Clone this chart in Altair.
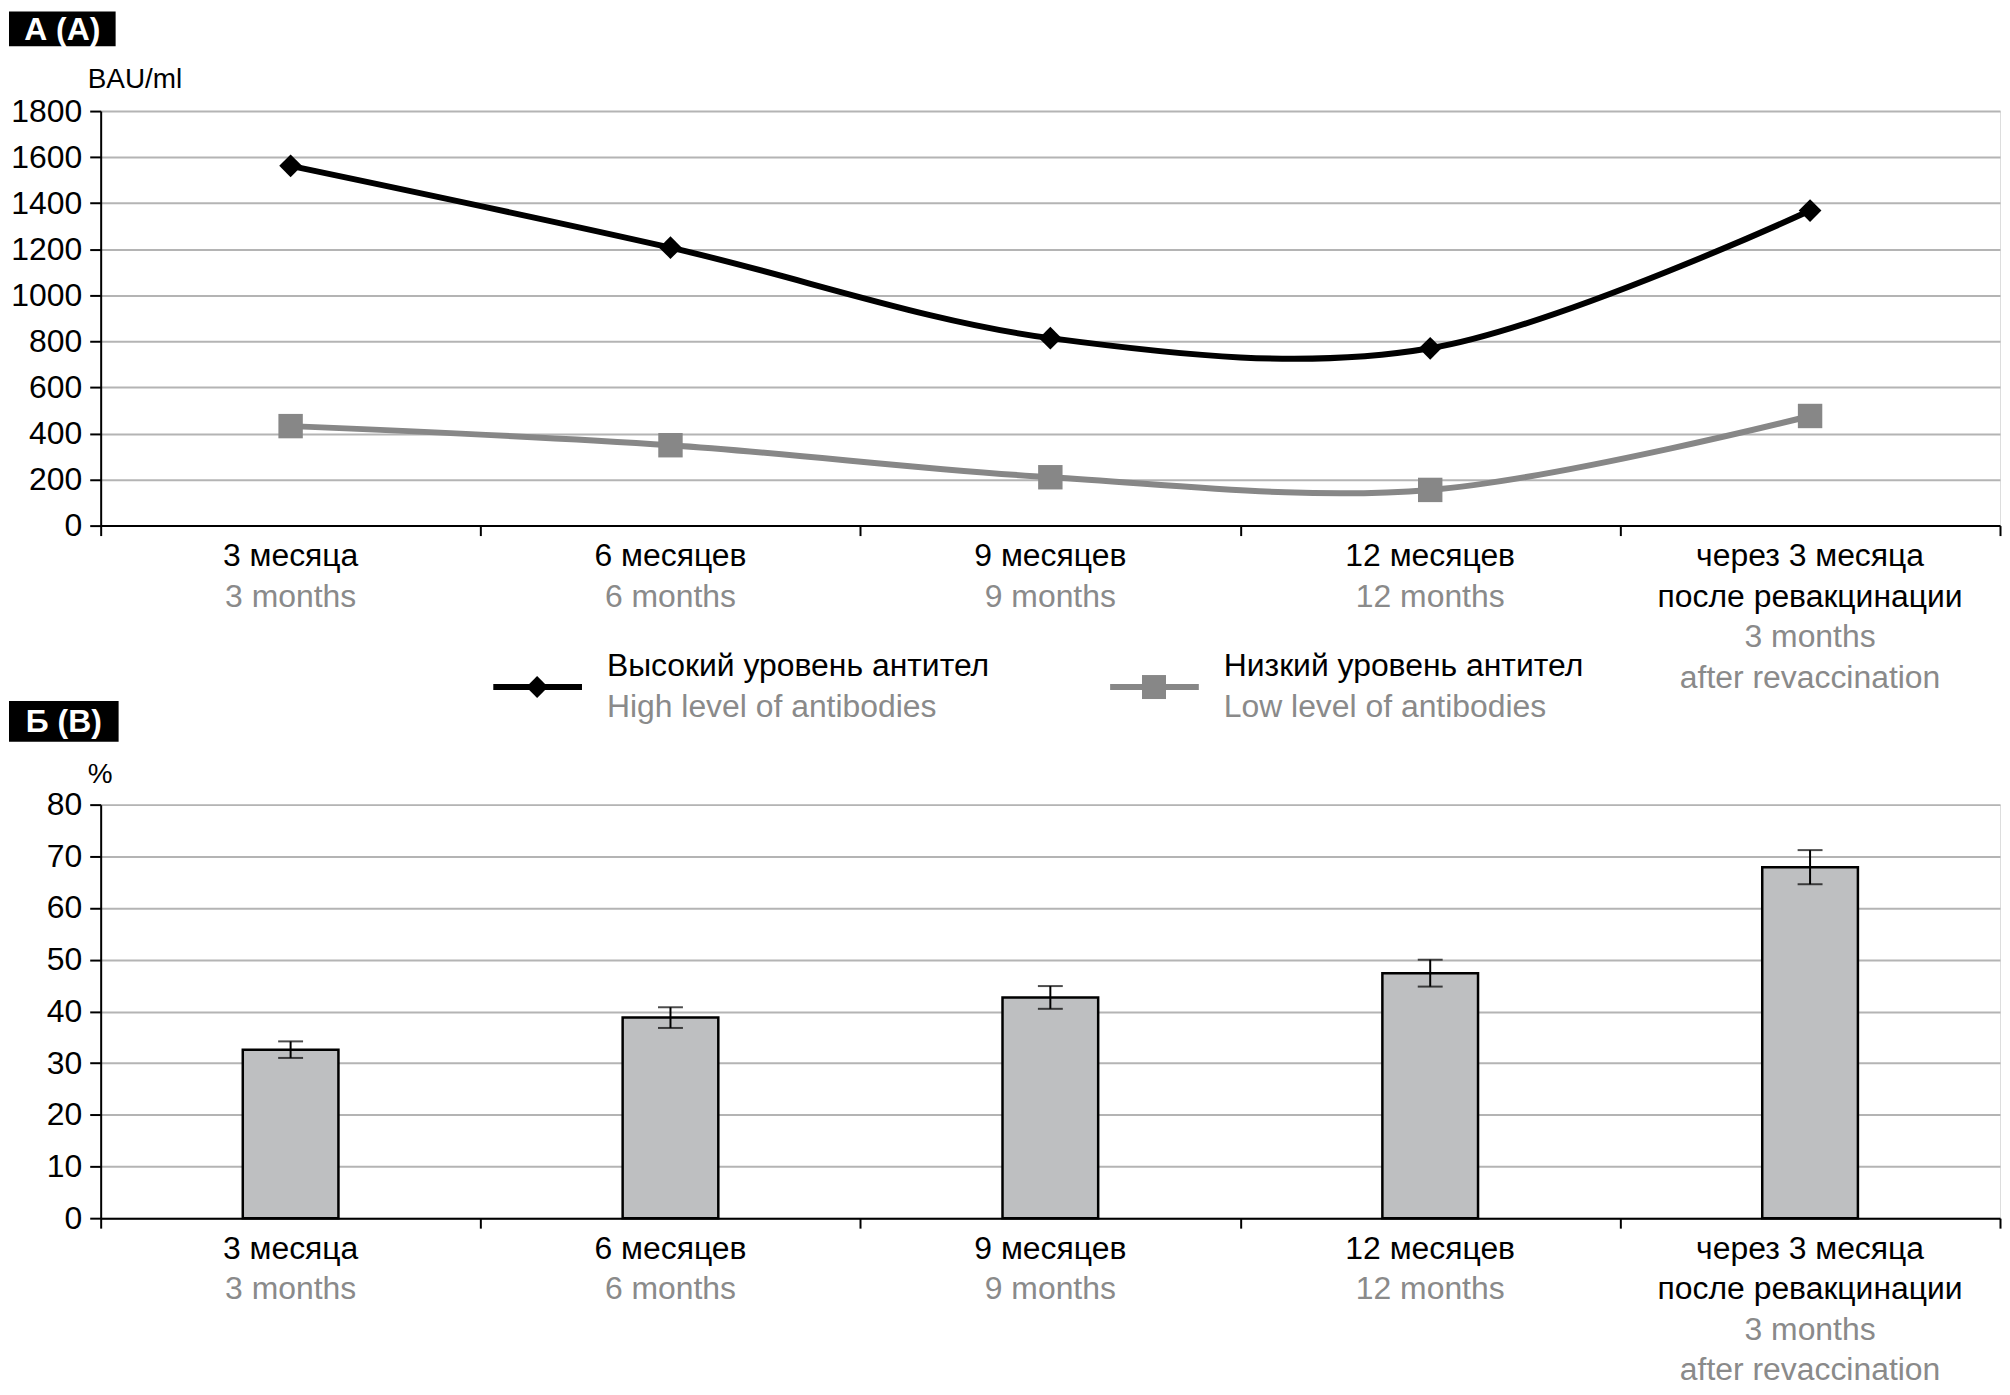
import altair as alt
import pandas as pd

# ---------------- data ----------------
cat_keys = ["m3", "m6", "m9", "m12", "rev"]
ru_lines = [["3 месяца"], ["6 месяцев"], ["9 месяцев"], ["12 месяцев"],
            ["через 3 месяца", "после ревакцинации"]]
en_lines = [["3 months"], ["6 months"], ["9 months"], ["12 months"],
            ["3 months", "after revaccination"]]

high_vals = [1562, 1207, 814, 770, 1368]
low_vals = [432, 349, 210, 155, 476]

pct_vals = [32.6, 38.8, 42.7, 47.4, 67.9]
pct_err = [1.6, 2.0, 2.2, 2.6, 3.3]

series_ru = ["Высокий уровень антител", "Низкий уровень антител"]
series_en = ["High level of antibodies", "Low level of antibodies"]

BLACK = "#000000"
GRAY_LINE = "#878787"
GRAY_TEXT = "#8a8a8a"
GRID = "#b4b4b4"
BAR = "#bebfc1"
FONT = "Liberation Sans"

W = 1906
H1 = 416
H2 = 415

# ---------------- tables ----------------
lines_df = pd.DataFrame(
    [{"cat": c, "value": v, "series": "high"} for c, v in zip(cat_keys, high_vals)]
    + [{"cat": c, "value": v, "series": "low"} for c, v in zip(cat_keys, low_vals)]
)
bars_df = pd.DataFrame({
    "cat": cat_keys,
    "value": pct_vals,
    "lo": [v - e for v, e in zip(pct_vals, pct_err)],
    "hi": [v + e for v, e in zip(pct_vals, pct_err)],
})
label_rows = []
for c, ru, en in zip(cat_keys, ru_lines, en_lines):
    k = 0
    for t in ru:
        label_rows.append({"cat": c, "line": k, "text": t, "color": BLACK})
        k += 1
    for t in en:
        label_rows.append({"cat": c, "line": k, "text": t, "color": GRAY_TEXT})
        k += 1
labels_df = pd.DataFrame(label_rows)

x_enc = alt.X("cat:N", sort=cat_keys, title=None,
              scale=alt.Scale(paddingInner=0, paddingOuter=0),
              axis=alt.Axis(labels=False, tickBand="extent", tickSize=10,
                            tickColor=BLACK, tickWidth=2, domainColor=BLACK,
                            domainWidth=2, grid=False))


def xlabels(h):
    layers = []
    for k in range(4):
        layers.append(
            alt.Chart(labels_df).transform_filter(alt.datum.line == k)
            .mark_text(font=FONT, fontSize=32, baseline="middle", align="center")
            .encode(x=x_enc, y=alt.value(h + 31 + 40.5 * k),
                    text="text:N", color=alt.Color("color:N", scale=None))
        )
    return layers


def panel_label(text, y0, y1, x1):
    box = alt.Chart(pd.DataFrame({"t": [text]})).mark_rect(color=BLACK).encode(
        x=alt.value(-92), x2=alt.value(x1), y=alt.value(y0), y2=alt.value(y1))
    txt = alt.Chart(pd.DataFrame({"t": [text]})).mark_text(
        font=FONT, fontSize=32, fontWeight="bold", color="white",
        align="center", baseline="middle").encode(
        x=alt.value((-92 + x1) / 2), y=alt.value((y0 + y1) / 2 + 1), text="t:N")
    return [box, txt]


def unit_label(text, y):
    return alt.Chart(pd.DataFrame({"t": [text]})).mark_text(
        font=FONT, fontSize=28, align="left", baseline="middle", color=BLACK
    ).encode(x=alt.value(-13), y=alt.value(y), text="t:N")


def y_axis(step, top):
    return alt.Axis(values=list(range(0, top + 1, step)), format="d",
                    labelFontSize=32, labelFont=FONT, labelColor=BLACK,
                    tickSize=11, tickColor=BLACK, tickWidth=2, labelPadding=8,
                    domainColor=BLACK, domainWidth=2, gridColor=GRID,
                    gridWidth=2)


# ---------------- top panel ----------------
y_top = alt.Y("value:Q", title=None,
              scale=alt.Scale(domain=[0, 1800], nice=False),
              axis=y_axis(200, 1800))

line_high = alt.Chart(lines_df).transform_filter(alt.datum.series == "high").mark_line(
    interpolate="cardinal", strokeWidth=6, color=BLACK).encode(x=x_enc, y=y_top)
line_low = alt.Chart(lines_df).transform_filter(alt.datum.series == "low").mark_line(
    interpolate="cardinal", strokeWidth=6, color=GRAY_LINE).encode(x=x_enc, y=y_top)
pts_high = alt.Chart(lines_df).transform_filter(alt.datum.series == "high").mark_point(
    shape="diamond", filled=True, size=520, color=BLACK, opacity=1).encode(x=x_enc, y=y_top)
pts_low = alt.Chart(lines_df).transform_filter(alt.datum.series == "low").mark_point(
    shape="square", filled=True, size=600, color=GRAY_LINE, opacity=1).encode(x=x_enc, y=y_top)

# legend (drawn by hand so each entry can carry two colours of text)
leg_df = pd.DataFrame({"ru": series_ru, "en": series_en,
                       "x0": [394, 1013], "color": [BLACK, GRAY_LINE]})
legend_layers = []
for i, (shape, size) in enumerate([("diamond", 480), ("square", 580)]):
    d = leg_df.iloc[[i]]
    x0 = int(leg_df["x0"][i])
    col = leg_df["color"][i]
    legend_layers.append(alt.Chart(d).mark_rule(color=col, strokeWidth=6).encode(
        x=alt.value(x0), x2=alt.value(x0 + 89), y=alt.value(H1 + 162)))
    legend_layers.append(alt.Chart(d).mark_point(
        shape=shape, filled=True, size=size, color=col, opacity=1).encode(
        x=alt.value(x0 + 44), y=alt.value(H1 + 162)))
    legend_layers.append(alt.Chart(d).mark_text(
        font=FONT, fontSize=32, align="left", baseline="middle", color=BLACK).encode(
        x=alt.value(x0 + 114), y=alt.value(H1 + 141), text="ru:N"))
    legend_layers.append(alt.Chart(d).mark_text(
        font=FONT, fontSize=32, align="left", baseline="middle", color=GRAY_TEXT).encode(
        x=alt.value(x0 + 114), y=alt.value(H1 + 182), text="en:N"))

top = alt.layer(
    line_low, line_high, pts_low, pts_high,
    *xlabels(H1), *legend_layers,
    *panel_label("А (А)", -100, -65, 15),
    unit_label("BAU/ml", -31),
).properties(width=W, height=H1)

# ---------------- bottom panel ----------------
y_bot = alt.Y("value:Q", title=None,
              scale=alt.Scale(domain=[0, 80], nice=False),
              axis=y_axis(10, 80))

bars = alt.Chart(bars_df).mark_bar(size=96, color=BAR, stroke=BLACK,
                                   strokeWidth=2.5).encode(x=x_enc, y=y_bot)
err_rule = alt.Chart(bars_df).mark_rule(color=BLACK, strokeWidth=2).encode(
    x=x_enc, y=alt.Y("lo:Q", scale=alt.Scale(domain=[0, 80], nice=False)), y2="hi:Q")
cap_lo = alt.Chart(bars_df).mark_tick(color=BLACK, size=25, thickness=2).encode(
    x=x_enc, y=alt.Y("lo:Q", scale=alt.Scale(domain=[0, 80], nice=False)))
cap_hi = alt.Chart(bars_df).mark_tick(color=BLACK, size=25, thickness=2).encode(
    x=x_enc, y=alt.Y("hi:Q", scale=alt.Scale(domain=[0, 80], nice=False)))

bottom = alt.layer(
    bars, err_rule, cap_lo, cap_hi,
    *xlabels(H2),
    *panel_label("Б (B)", -104, -63, 18),
    unit_label("%", -30),
).properties(width=W, height=H2)

chart = alt.vconcat(top, bottom, spacing=280, bounds="flush").configure_view(
    stroke=BLACK, strokeWidth=2
).configure(padding=0, background="white")

chart.save("out.html", embed_options={"renderer": "svg", "actions": False})
